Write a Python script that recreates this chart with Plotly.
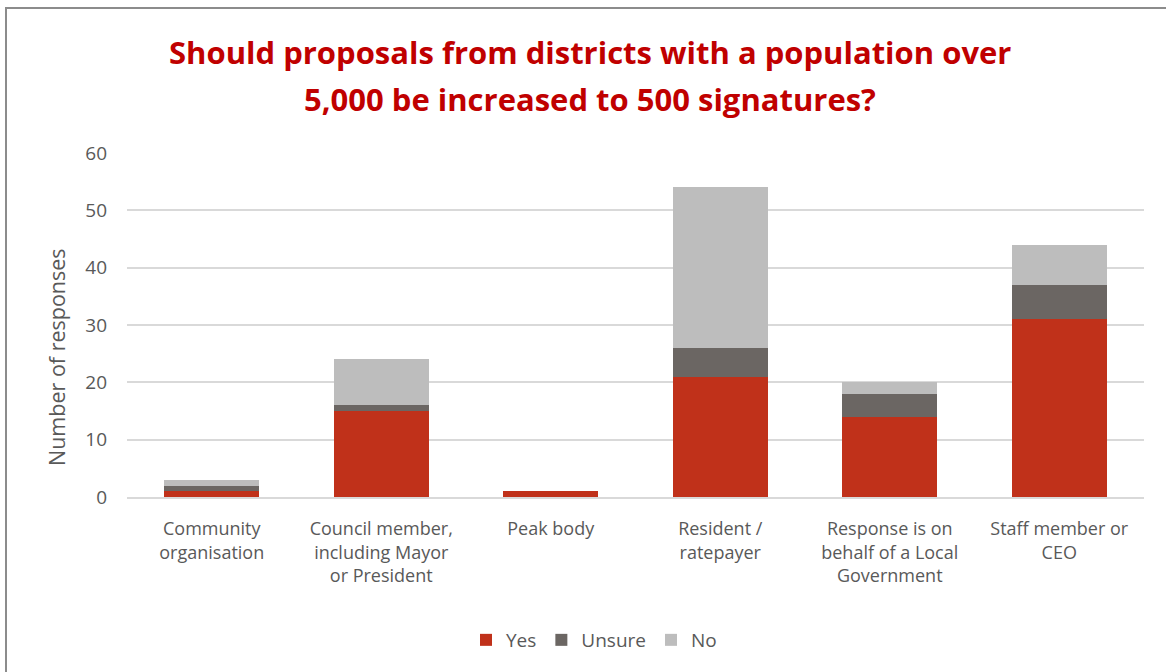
import plotly.graph_objects as go

categories = ["Community<br>organisation", "Council member,<br>including Mayor<br>or President",
              "Peak body", "Resident /<br>ratepayer",
              "Response is on<br>behalf of a Local<br>Government", "Staff member or<br>CEO"]
yes = [1, 15, 1, 21, 14, 31]
unsure = [1, 1, 0, 5, 4, 6]
no = [1, 8, 0, 28, 2, 7]
y_ticks = [0, 10, 20, 30, 40, 50, 60]
title_lines = ["Should proposals from districts with a population over",
               "5,000 be increased to 500 signatures?"]
y_title = "Number of responses"

W, H = 1166, 672
L, R, T, B = 127, 22, 153, 175
pw, ph = W - L - R, H - T - B

def px_x(p):
    return (p - L) / pw

def px_y(p):
    return (H - B - p) / ph

font_main = "Open Sans, Liberation Sans, sans-serif"
fig = go.Figure()
for name, vals, col in [("Yes", yes, "#C0311A"), ("Unsure", unsure, "#6B6663"), ("No", no, "#BDBDBD")]:
    fig.add_trace(go.Bar(x=categories, y=vals, name=name, marker=dict(color=col, line=dict(width=0))))

fig.update_layout(
    barmode="stack", bargap=0.44,
    width=W, height=H,
    margin=dict(l=L, r=R, t=T, b=B),
    paper_bgcolor="white", plot_bgcolor="white",
    font=dict(family=font_main, color="#595959", size=18),
    legend=dict(orientation="h", x=px_x(594), xanchor="center", y=px_y(640), yanchor="middle",
                font=dict(size=19, color="#595959"), traceorder="normal", itemsizing="constant",
                itemwidth=30, tracegroupgap=0),
    showlegend=True,
)
for i, (line, yc) in enumerate(zip(title_lines, [52, 99])):
    fig.add_annotation(text="<b>" + line + "</b>", xref="paper", yref="paper",
                       x=px_x(590), y=px_y(yc), xanchor="center", yanchor="middle",
                       showarrow=False, font=dict(size=31, color="#C00000", family=font_main))
fig.add_annotation(text=y_title, xref="paper", yref="paper", x=px_x(56), y=px_y(357),
                   xanchor="center", yanchor="middle", textangle=-90, showarrow=False,
                   font=dict(size=21.5, color="#595959", family=font_main))
fig.update_yaxes(range=[0, 60], tickvals=y_ticks, showgrid=True, gridcolor="#D9D9D9", gridwidth=1.5,
                 zeroline=False, showline=False, ticks="", ticklen=0, ticklabelstandoff=19,
                 tickfont=dict(size=19, color="#595959"))
fig.update_xaxes(showline=True, linecolor="#D9D9D9", linewidth=1.5, ticks="", ticklabelstandoff=15,
                 tickfont=dict(size=18, color="#595959"))
fig.add_shape(type="rect", xref="paper", yref="paper",
              x0=px_x(6), x1=px_x(1175), y0=px_y(690), y1=px_y(8),
              line=dict(color="#8C8C8C", width=2), fillcolor="rgba(0,0,0,0)", layer="below")
fig.write_html("out.html", config={"displayModeBar": False},
               post_script="document.body.style.margin='0';document.body.style.overflow='hidden';")
